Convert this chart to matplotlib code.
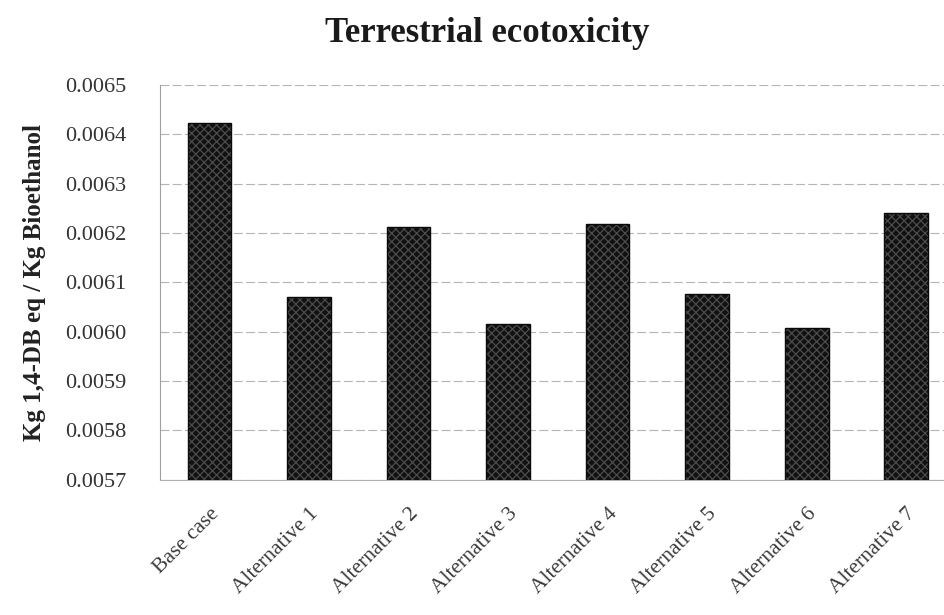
import numpy as np
import matplotlib
matplotlib.use('Agg')
import matplotlib.pyplot as plt

categories = ['Base case', 'Alternative 1', 'Alternative 2', 'Alternative 3',
              'Alternative 4', 'Alternative 5', 'Alternative 6', 'Alternative 7']
values = [0.006423, 0.006070, 0.006212, 0.006016,
          0.006218, 0.006077, 0.006008, 0.006240]
yticks = [0.0057, 0.0058, 0.0059, 0.0060, 0.0061, 0.0062, 0.0063, 0.0064, 0.0065]
ytick_labels = ['0.0057', '0.0058', '0.0059', '0.0060', '0.0061',
                '0.0062', '0.0063', '0.0064', '0.0065']

plt.rcParams['font.family'] = ['Liberation Serif', 'DejaVu Serif']
plt.rcParams['hatch.linewidth'] = 0.9

fig = plt.figure(figsize=(9.45, 6.15), dpi=100)
ax = fig.add_axes([0.169, 0.22, 0.831, 0.642])

x = np.arange(len(categories))
ax.bar(x, np.array(values) - 0.0057, bottom=0.0057, width=0.44,
       color='#111111', edgecolor='#4c4c4c', hatch='xxxx', linewidth=0, zorder=3)
ax.bar(x, np.array(values) - 0.0057, bottom=0.0057, width=0.44,
       fill=False, edgecolor='#0a0a0a', linewidth=1.0, zorder=4)

ax.set_ylim(0.0057, 0.0065)
ax.set_xlim(-0.5, 7.39)
ax.set_yticks(yticks)
ax.set_yticklabels(ytick_labels, fontsize=16, color='#333333')
ax.set_xticks(x)
ax.set_xticklabels(categories, rotation=45, ha='right', rotation_mode='anchor',
                   fontsize=15.5, color='#3a3a3a')
ax.tick_params(axis='x', length=0, pad=18)
ax.tick_params(axis='y', length=0, pad=24)

ax.grid(axis='y', color='#b4b4b4', linewidth=0.8, linestyle=(0, (8, 3)), zorder=0)
for side in ['top', 'right']:
    ax.spines[side].set_visible(False)
ax.spines['left'].set_color('#a0a0a0')
ax.spines['left'].set_linewidth(0.8)
ax.spines['bottom'].set_color('#b0b0b0')
ax.spines['bottom'].set_linewidth(0.8)

ax.set_ylabel('Kg 1,4-DB eq / Kg Bioethanol', fontsize=18, fontweight='bold',
              color='#222222', labelpad=14)
fig.text(0.516, 0.945, 'Terrestrial ecotoxicity', ha='center', va='center',
         fontsize=25, fontweight='bold', color='#1a1a1a')

fig.savefig('out.png', dpi=100)
